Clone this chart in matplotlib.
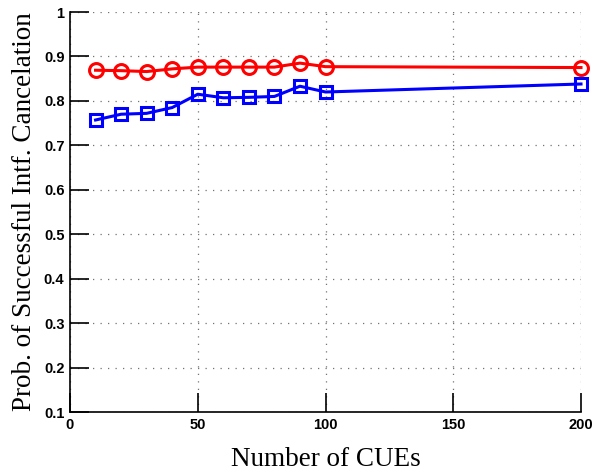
import numpy as np
import matplotlib.pyplot as plt

# number of CUEs and success probability of interference cancelation
cues = [10, 20, 30, 40, 50, 60, 70, 80, 90, 100, 200]
prob_red = [0.869, 0.868, 0.866, 0.872, 0.876, 0.876, 0.876, 0.876, 0.885, 0.877, 0.875]
prob_blue = [0.757, 0.770, 0.772, 0.785, 0.815, 0.807, 0.808, 0.810, 0.833, 0.820, 0.838]

xticks = [0, 50, 100, 150, 200]
yticks = [0.1, 0.2, 0.3, 0.4, 0.5, 0.6, 0.7, 0.8, 0.9, 1]

fig = plt.figure(figsize=(5.94, 4.76), dpi=100)
ax = fig.add_axes([70/594, 64/476, 511/594, 400/476])

ax.plot(cues, prob_red, "r-o", lw=2.2, markersize=10, markeredgewidth=2.2,
        markerfacecolor="none", clip_on=False)
ax.plot(cues, prob_blue, "b-s", lw=2.2, markersize=8, markeredgewidth=2.2,
        markerfacecolor="none", clip_on=False)

ax.set_xlim(0, 200)
ax.set_ylim(0.1, 1)
ax.set_xticks(xticks)
ax.set_yticks(yticks)
ax.set_xticklabels([str(v) for v in xticks])
ax.set_yticklabels(["%g" % v for v in yticks])

ax.spines["top"].set_visible(False)
ax.spines["right"].set_visible(False)
ax.spines["left"].set_linewidth(1.2)
ax.spines["bottom"].set_linewidth(1.2)

ax.tick_params(direction="in", length=14, width=1.2, pad=4)
for lab in ax.get_xticklabels() + ax.get_yticklabels():
    lab.set_family("Liberation Sans")
    lab.set_fontweight("bold")
    lab.set_fontsize(10.5)

ax.grid(True, linestyle=(0, (1, 5)), color="0.45", lw=0.9)

ax.set_xlabel("Number of CUEs", family="Liberation Serif", fontsize=19.5, labelpad=11)
ax.set_ylabel("Prob. of Successful Intf. Cancelation", family="Liberation Serif",
              fontsize=19.5, labelpad=5)

fig.savefig("out.png", dpi=100)
